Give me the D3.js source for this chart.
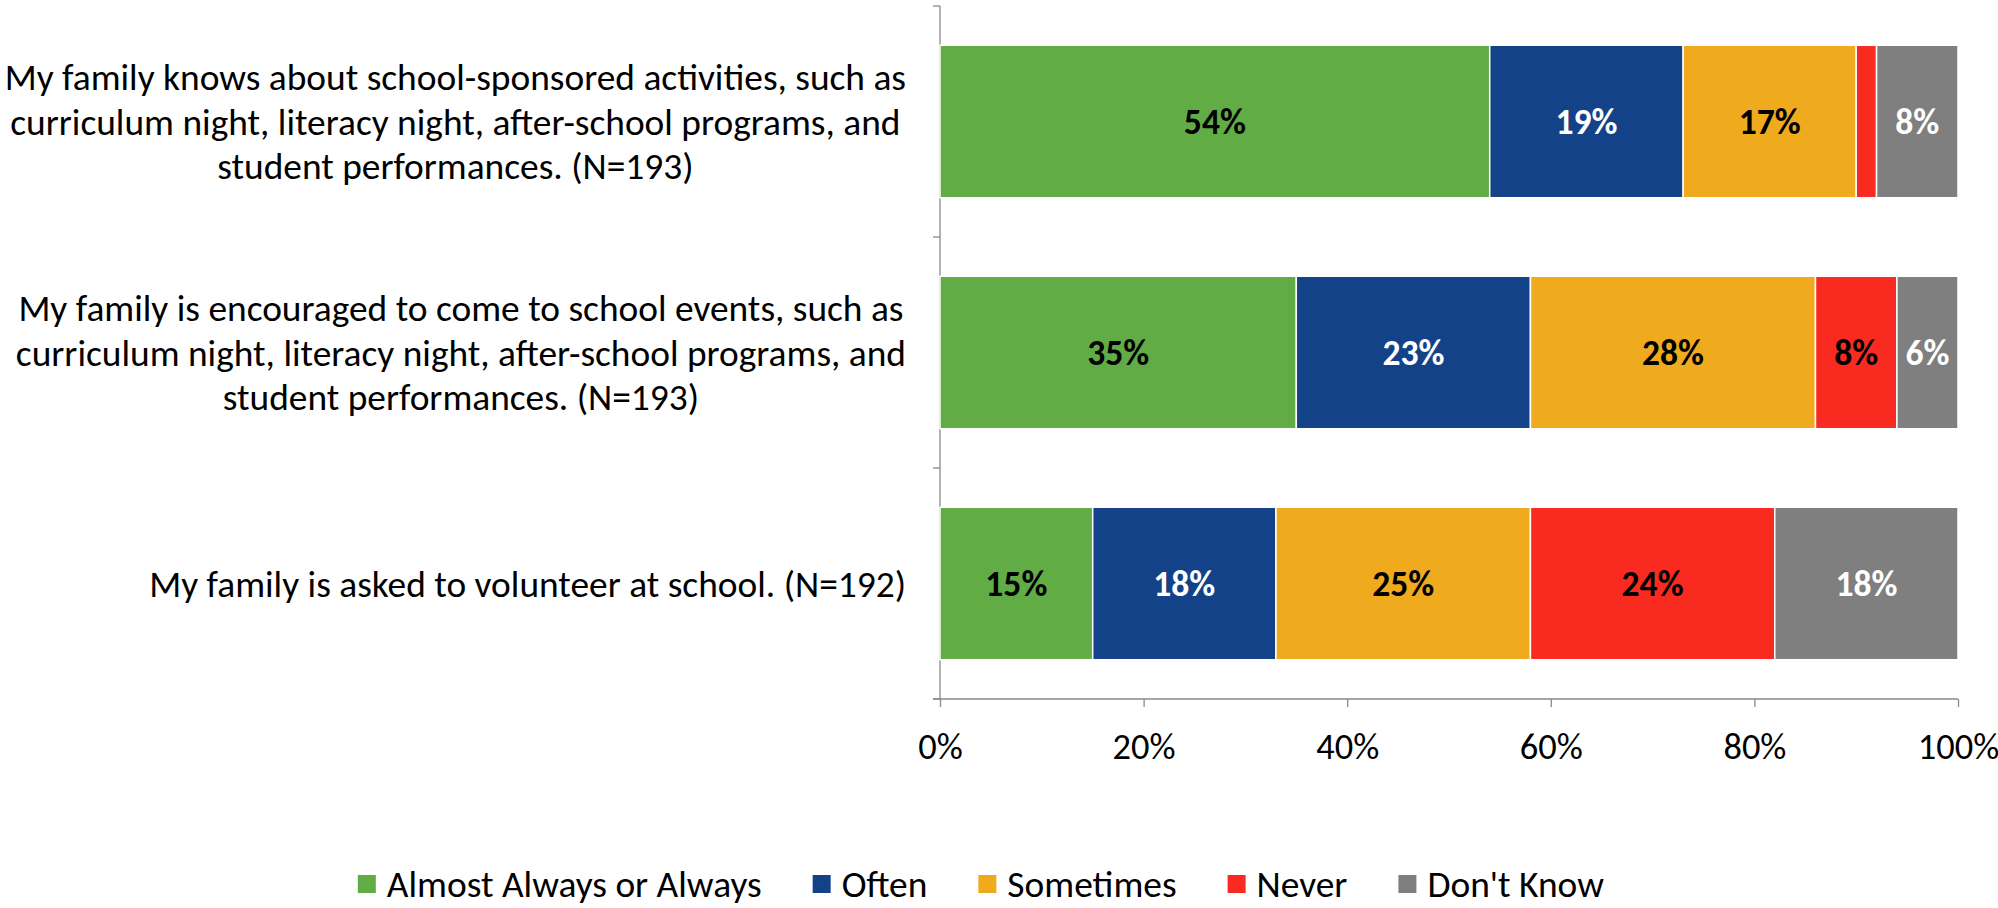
<!DOCTYPE html>
<html>
<head>
<meta charset="utf-8">
<script src="https://cdn.jsdelivr.net/npm/d3@7"></script>
<style>
    body { margin: 0; background: #fff; }
    svg text { font-family: Carlito, Lato, "Liberation Sans", sans-serif; }
    .axis path, .axis line { stroke: #898989; stroke-width: 1.3; }
    .axis text { fill: #000; }
    .catLabel { fill: #000; }
    .barLabel { font-weight: bold; }
    .legendText { fill: #000; }
</style>
</head>
<body>
<script>
// Data
const categories = [
    ["My family knows about school-sponsored activities, such as",
     "curriculum night, literacy night, after-school programs, and",
     "student performances. (N=193)"],
    ["My family is encouraged to come to school events, such as",
     "curriculum night, literacy night, after-school programs, and",
     "student performances. (N=193)"],
    ["My family is asked to volunteer at school. (N=192)"]
];
const seriesNames = ["Almost Always or Always", "Often", "Sometimes", "Never", "Don't Know"];
const almostAlways = [54, 35, 15];
const often = [19, 23, 18];
const sometimes = [17, 28, 25];
const never = [2, 8, 24];
const dontKnow = [8, 6, 18];
const xTicks = [0, 20, 40, 60, 80, 100];

const colors = ["#62ac46", "#134289", "#f0aa1e", "#f92b20", "#7f7f7f"];
const labelColors = ["#000", "#fff", "#000", "#000", "#fff"];

const width = 1998, height = 908;
const margin = { top: 6, right: 40, bottom: 209, left: 940 };
const innerW = width - margin.left - margin.right;
const innerH = height - margin.top - margin.bottom;

var svg = d3.select("body").append("svg")
    .attr("width", width)
    .attr("height", height);

// The original uses Calibri; pick sizes so the fallback font takes the same width
function fitSize(str, weight, target) {
    var t = svg.append("text")
        .style("font-size", "100px")
        .style("font-weight", weight)
        .text(str);
    var w = t.node().getComputedTextLength();
    t.remove();
    return 100 * target / w;
}
const catSize = fitSize("My family is asked to volunteer at school. (N=192)", "normal", 757);
const tickSize = fitSize("20%", "normal", 63);
const barSize = fitSize("18%", "bold", 62);
const legendSize = fitSize("Almost Always or Always", "normal", 375);

// Build a table the stack can use
let table = categories.map(function (c, i) {
    return {
        idx: i,
        s0: almostAlways[i],
        s1: often[i],
        s2: sometimes[i],
        s3: never[i],
        s4: dontKnow[i]
    };
});
const keys = ["s0", "s1", "s2", "s3", "s4"];
const stacked = d3.stack().keys(keys)(table);

var g = svg.append("g")
    .attr("transform", "translate(" + margin.left + "," + margin.top + ")");

var x = d3.scaleLinear()
    .domain([0, 100])
    .range([0, innerW]);

var y = d3.scaleBand()
    .domain(d3.range(categories.length))
    .range([0, innerH])
    .paddingInner(0.34)
    .paddingOuter(0.17);

// y axis: a line with ticks at the category boundaries
var bounds = d3.range(categories.length + 1).map(i => i * innerH / categories.length);
g.append("g")
    .attr("class", "axis")
    .selectAll("line")
    .data(bounds)
    .enter()
    .append("line")
    .attr("x1", -7)
    .attr("x2", 0)
    .attr("y1", d => d)
    .attr("y2", d => d);
g.append("line")
    .attr("x1", 0).attr("x2", 0)
    .attr("y1", 0).attr("y2", innerH)
    .style("stroke", "#898989")
    .style("stroke-width", 1.3);

// x axis
var xAxis = d3.axisBottom(x)
    .tickValues(xTicks)
    .tickSize(8)
    .tickPadding(26)
    .tickFormat(d => d + "%");
var xg = g.append("g")
    .attr("class", "axis")
    .attr("transform", "translate(0," + innerH + ")")
    .call(xAxis);
xg.select(".domain").attr("d", "M-7,0H" + innerW);
xg.selectAll("text").style("font-size", tickSize + "px");

// bars
var layers = g.selectAll(".layer")
    .data(stacked)
    .enter()
    .append("g")
    .attr("class", "layer")
    .attr("fill", (d, i) => colors[i]);

layers.selectAll("rect")
    .data(d => d)
    .enter()
    .append("rect")
    .attr("x", d => x(d[0]))
    .attr("y", d => y(d.data.idx))
    .attr("width", d => x(d[1]) - x(d[0]))
    .attr("height", y.bandwidth())
    .attr("stroke", "#fff")
    .attr("stroke-width", 1.5);

layers.each(function (layer, li) {
    d3.select(this).selectAll("text")
        .data(layer.filter(d => d[1] - d[0] >= 4))
        .enter()
        .append("text")
        .attr("class", "barLabel")
        .style("font-size", barSize + "px")
        .attr("x", d => x((d[0] + d[1]) / 2))
        .attr("y", d => y(d.data.idx) + y.bandwidth() / 2)
        .attr("dy", "0.35em")
        .attr("text-anchor", "middle")
        .attr("fill", labelColors[li])
        .text(d => (d[1] - d[0]) + "%");
});

// category labels: centred block, right edge next to the axis
const labelRight = -34;
const lineH = 44.6;
categories.forEach(function (lines, i) {
    var cy = y(i) + y.bandwidth() / 2;
    var t = g.append("text")
        .attr("class", "catLabel")
        .style("font-size", catSize + "px")
        .attr("text-anchor", "middle");
    lines.forEach(function (ln, k) {
        t.append("tspan")
            .attr("y", cy + (k - (lines.length - 1) / 2) * lineH)
            .attr("dy", "0.35em")
            .text(ln);
    });
    var maxW = 0;
    t.selectAll("tspan").each(function () {
        maxW = Math.max(maxW, this.getComputedTextLength());
    });
    t.selectAll("tspan").attr("x", labelRight - maxW / 2);
});

// legend
const legendGap = 51;
var legend = svg.append("g")
    .attr("transform", "translate(0,884)");
var items = legend.selectAll(".item")
    .data(seriesNames)
    .enter()
    .append("g")
    .attr("class", "item");
items.append("rect")
    .attr("y", -9)
    .attr("width", 18)
    .attr("height", 18)
    .attr("fill", (d, i) => colors[i]);
items.append("text")
    .attr("class", "legendText")
    .style("font-size", legendSize + "px")
    .attr("x", 29)
    .attr("dy", "0.35em")
    .text(d => d);
var offs = [];
var cur = 0;
items.each(function () {
    offs.push(cur);
    cur += this.getBBox().width + legendGap;
});
cur -= legendGap;
var start = 981 - cur / 2;
items.attr("transform", (d, i) => "translate(" + (start + offs[i]) + ",0)");
</script>
</body>
</html>
